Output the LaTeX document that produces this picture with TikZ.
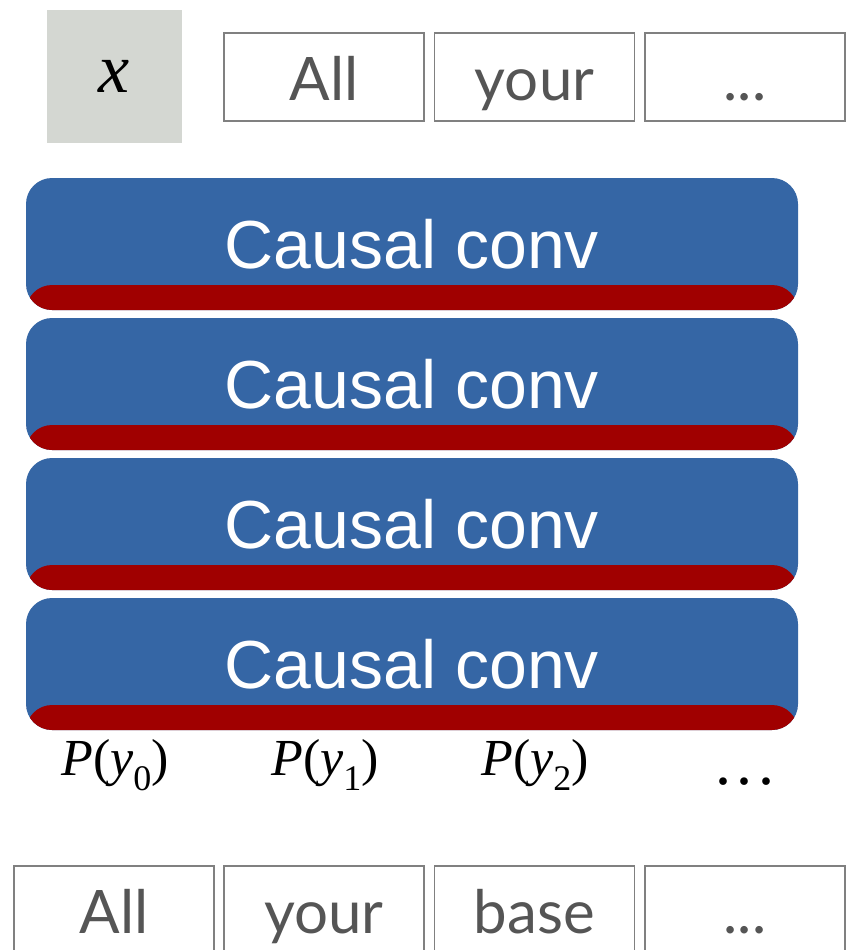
\documentclass[tikz,border=0pt]{standalone}
\usepackage{fontspec}
\setmainfont{Liberation Serif}
\newfontfamily\headfont{Liberation Sans}
\newfontfamily\wordfont{Lato}
\definecolor{convblue}{HTML}{3566A5}
\definecolor{convred}{HTML}{A00000}
\definecolor{inputgray}{HTML}{D4D7D2}
\definecolor{boxedge}{HTML}{808080}
\definecolor{wordgray}{HTML}{555555}
\newcommand{\probof}[1]{{\itshape P}({\itshape y}\raisebox{-0.28em}{\fontsize{36}{36}\selectfont #1})}
\begin{document}
\begin{tikzpicture}[x=1pt,y=-1pt,
  wordbox/.style={draw=boxedge, line width=1.4pt, minimum width=200pt, minimum height=88pt,
    inner sep=0pt, text=wordgray, font=\wordfont\fontsize{60}{60}\selectfont,
    text height=46pt, text depth=0pt},
  inputbox/.style={fill=inputgray, minimum width=135pt, minimum height=133pt, inner sep=0pt,
    font=\fontsize{70}{70}\selectfont\itshape},
  convblock/.style={rounded corners=26pt, fill=convblue, minimum width=772pt, minimum height=132pt,
    inner sep=0pt, text=white, font=\headfont\fontsize{68}{68}\selectfont,
    text height=49pt, text depth=0pt,
    path picture={\fill[convred] ([yshift=-2pt]path picture bounding box.south west)
      rectangle ([yshift=25pt]path picture bounding box.south east);}},
  problabel/.style={inner sep=0pt, font=\fontsize{52}{52}\selectfont}]
\useasboundingbox (0,0) rectangle (848,950);

% input token and the shifted-in words
\node[inputbox] (x) at (114.5,76.5) {x};
\node[wordbox] (t1) at (324,77) {All};
\node[wordbox] (t2) at (534.5,77) {your};
\node[wordbox] (t3) at (745,77) {...};

% stack of causal convolution layers
\node[convblock] (c1) at (412,244) {Causal conv};
\node[convblock] (c2) at (412,384) {Causal conv};
\node[convblock] (c3) at (412,524) {Causal conv};
\node[convblock] (c4) at (412,664) {Causal conv};

% predicted distributions
\node[problabel] (p0) at (115,765) {\probof{0}};
\node[problabel] (p1) at (325,765) {\probof{1}};
\node[problabel] (p2) at (535,765) {\probof{2}};
\node[problabel, font=\fontsize{64}{64}\selectfont] (pd) at (745,782) {.\kern6pt.\kern6pt.};

% target words
\node[wordbox] (b1) at (114,910) {All};
\node[wordbox] (b2) at (324,910) {your};
\node[wordbox] (b3) at (534.5,910) {base};
\node[wordbox] (b4) at (745,910) {...};
\end{tikzpicture}
\end{document}
